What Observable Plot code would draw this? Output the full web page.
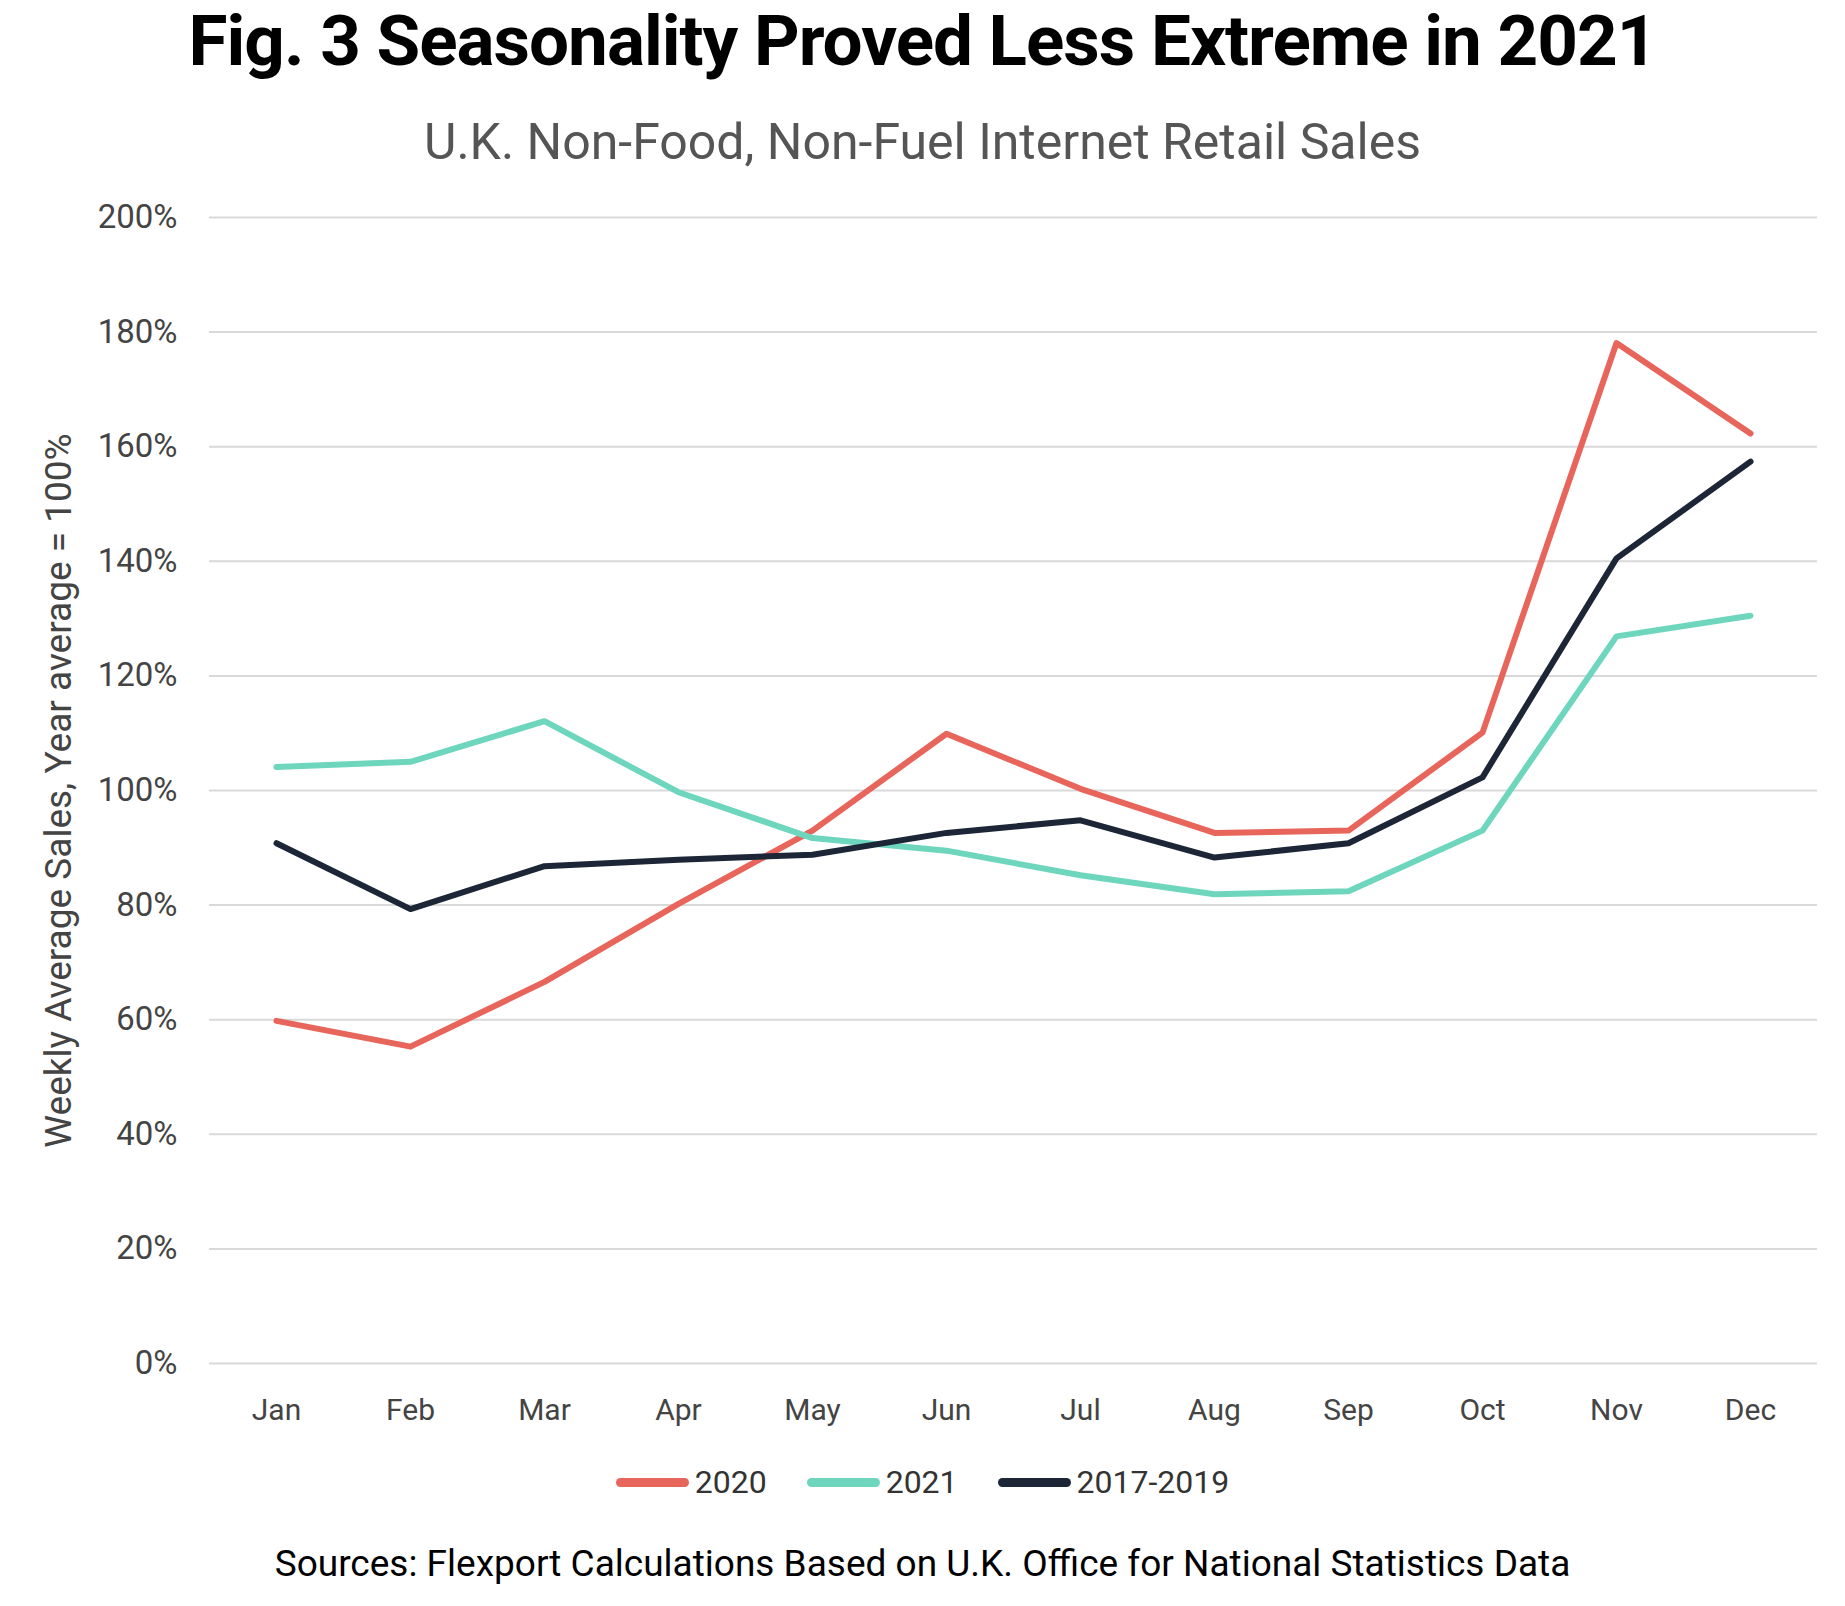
<!DOCTYPE html>
<html>
<head>
<meta charset="utf-8">
<script src="https://cdn.jsdelivr.net/npm/d3@7"></script>
<script src="https://cdn.jsdelivr.net/npm/@observablehq/plot@0.6"></script>
<style>
  html, body { margin: 0; padding: 0; background: #fff; }
  body { width: 1845px; height: 1606px; position: relative; overflow: hidden; font-family: Roboto, "Noto Sans", sans-serif; }
  .abs { position: absolute; left: 0; width: 1845px; text-align: center; line-height: 1; white-space: nowrap; }
  #title { top: 5px; font-size: 71px; font-weight: 700; color: #000; letter-spacing: -1px; }
  #subtitle { top: 117px; font-size: 50px; font-weight: 400; color: #555; }
  #chart { position: absolute; left: 0; top: 180px; }
  #legend { top: 1466px; display: flex; justify-content: center; align-items: center; gap: 40px; font-size: 32px; color: #333; }
  .item { display: flex; align-items: center; gap: 6px; }
  .sw { width: 73px; height: 9px; border-radius: 5px; }
  #source { top: 1545px; font-size: 37px; color: #000; }
</style>
</head>
<body>
<div id="title" class="abs">Fig. 3 Seasonality Proved Less Extreme in 2021</div>
<div id="subtitle" class="abs">U.K. Non-Food, Non-Fuel Internet Retail Sales</div>
<div id="chart"></div>
<div id="legend" class="abs"></div>
<div id="source" class="abs">Sources: Flexport Calculations Based on U.K. Office for National Statistics Data</div>
<script>
const months = ["Jan","Feb","Mar","Apr","May","Jun","Jul","Aug","Sep","Oct","Nov","Dec"];
const seriesNames = ["2020", "2021", "2017-2019"];
const seriesColors = ["#E8655B", "#6ED6BD", "#1C2636"];
const values2020 = [59.8, 55.3, 66.6, 80.2, 93.0, 109.9, 100.3, 92.6, 93.0, 110.1, 178.1, 162.3];
const values2021 = [104.1, 105.0, 112.1, 99.7, 91.7, 89.5, 85.2, 81.9, 82.4, 93.0, 126.9, 130.5];
const values20172019 = [90.8, 79.3, 86.8, 87.9, 88.8, 92.6, 94.8, 88.3, 90.8, 102.3, 140.5, 157.4];
const yTicks = [0, 20, 40, 60, 80, 100, 120, 140, 160, 180, 200];
const yLabel = "Weekly Average Sales, Year average = 100%";

const allValues = [values2020, values2021, values20172019];
const data = seriesNames.flatMap((s, i) => months.map((m, j) => ({series: s, month: m, value: allValues[i][j]})));

const chart = Plot.plot({
  width: 1845,
  height: 1263,
  marginTop: 37,
  marginBottom: 80,
  marginLeft: 209,
  marginRight: 28,
  style: {fontFamily: "Roboto, 'Noto Sans', sans-serif", background: "#fff", overflow: "visible"},
  x: {type: "point", domain: months, padding: 0.5, label: null},
  y: {domain: [0, 200], label: null},
  color: {domain: seriesNames, range: seriesColors},
  marks: [
    Plot.gridY(yTicks, {stroke: "#d9d9d9", strokeOpacity: 1, strokeWidth: 2}),
    Plot.axisY(yTicks, {tickSize: 0, tickPadding: 32, fontSize: 33, fill: "#444", tickFormat: d => d + "%", label: null}),
    Plot.axisY({tickSize: 0, ticks: [], fontSize: 37, fill: "#444",
      label: yLabel, labelAnchor: "center", labelOffset: 165, labelArrow: "none"}),
    Plot.axisX({tickSize: 0, tickPadding: 35, fontSize: 30, fill: "#444", label: null}),
    Plot.lineY(data, {x: "month", y: "value", stroke: "series", z: "series", strokeWidth: 6, strokeLinecap: "round", strokeLinejoin: "round"})
  ]
});
document.getElementById("chart").appendChild(chart);

const legend = document.getElementById("legend");
seriesNames.forEach((s, i) => {
  const item = document.createElement("div");
  item.className = "item";
  const sw = document.createElement("div");
  sw.className = "sw";
  sw.style.background = seriesColors[i];
  const t = document.createElement("span");
  t.textContent = s;
  item.appendChild(sw);
  item.appendChild(t);
  legend.appendChild(item);
});
</script>
</body>
</html>
